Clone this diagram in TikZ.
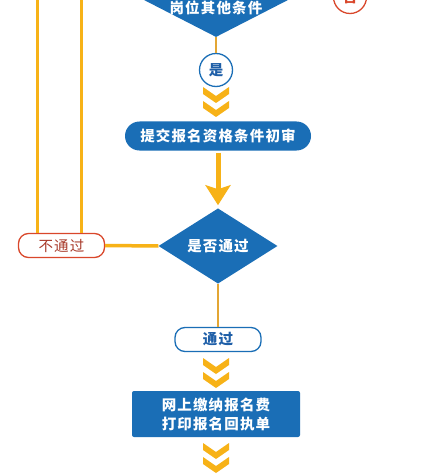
\documentclass[tikz,border=0pt]{standalone}
\usepackage{fontspec}
\newfontfamily\cjk{Noto Sans CJK SC}[LetterSpace=8]
\usetikzlibrary{shapes.geometric,arrows.meta}
\definecolor{fblue}{HTML}{1A6EB6}
\definecolor{fyellow}{HTML}{F7B217}
\definecolor{fgold}{HTML}{E3A634}
\definecolor{fred}{HTML}{D9472B}
\definecolor{fredtext}{HTML}{A83A2A}
\definecolor{fbluetext}{HTML}{1F5FA8}
\tikzset{
  txt/.style={font=\cjk\bfseries\fontsize{14.5}{19}\selectfont},
  bluepill/.style={txt, fill=fblue, text=white, rounded corners=14.5pt, minimum width=186pt, minimum height=29pt, inner sep=0pt},
  bluerect/.style={txt, fill=fblue, text=white, rounded corners=2pt, minimum width=168pt, minimum height=46pt, inner sep=0pt, align=center},
  bluediam/.style={txt, diamond, fill=fblue, text=white, inner sep=0pt},
  whitetxt/.style={txt, text=white, inner sep=0pt},
  redbox/.style={font=\cjk\fontsize{14.5}{19}\selectfont, draw=fred, line width=1.3pt, fill=white, text=fredtext, rounded corners=10pt, minimum width=86pt, minimum height=24pt, inner sep=0pt},
  bluebox/.style={txt, draw=fblue, line width=1.3pt, fill=white, text=fbluetext, rounded corners=10pt, minimum width=86pt, minimum height=24pt, inner sep=0pt},
  redcirc/.style={txt, circle, draw=fred, line width=1.3pt, fill=white, text=fred, minimum size=33pt, inner sep=0pt},
  bluecirc/.style={txt, circle, draw=fblue, line width=1.3pt, fill=white, text=fbluetext, minimum size=33pt, inner sep=0pt},
  yline/.style={draw=fyellow, line width=3pt},
  gline/.style={draw=fgold, line width=1.8pt},
  chev/.pic={
    \foreach \d in {0,14}{
      \fill[fyellow] (-13,\d) -- (0,\d+9) -- (13,\d) -- (13,\d+7) -- (0,\d+16) -- (-13,\d+7) -- cycle;
    }
  }
}
\begin{document}
\begin{tikzpicture}[x=1pt,y=-1pt]
\useasboundingbox (0,0) rectangle (422,476);
\fill[white] (0,0) rectangle (422,476);
% top decision (partly outside)
\node[bluediam, minimum width=148pt, minimum height=76pt] (q1) at (216,-1) {};
\node[whitetxt] (q1t) at (216,8) {岗位其他条件};
\node[redcirc] (no1) at (350,-3) {否};
\draw[gline] (q1.east) -- (no1.west);
% yes circle
\node[bluecirc] (yes1) at (216,70) {是};
\draw[gline] (q1.south) -- (yes1.north);
\pic at (216,87) {chev};
% submit
\node[bluepill] (submit) at (218,136) {提交报名资格条件初审};
% decision pass
\node[bluediam, minimum width=119pt, minimum height=71pt] (pass) at (218,246) {是否通过};
\draw[fyellow, line width=5pt, shorten <=2pt, shorten >=3pt, -{Stealth[length=20pt,width=25pt,inset=4pt]}] (submit.south) -- (pass.north);
% fail box
\node[redbox] (fail) at (61.5,245.5) {不通过};
\draw[yline, line width=3.5pt] (fail.east) -- (pass.west);
\coordinate (up1) at (37,-10);
\coordinate (up2) at (81,-10);
\draw[yline] (up1) -- (up1 |- fail.north);
\draw[yline] (up2) -- (up2 |- fail.north);
% passed
\node[bluebox] (ok) at (218,339.5) {通过};
\draw[gline] (pass.south) -- (ok.north);
\pic at (216,358) {chev};
\node[bluerect] (pay) at (216,414) {网上缴纳报名费\\打印报名回执单};
\pic at (216,443) {chev};
\end{tikzpicture}
\end{document}
